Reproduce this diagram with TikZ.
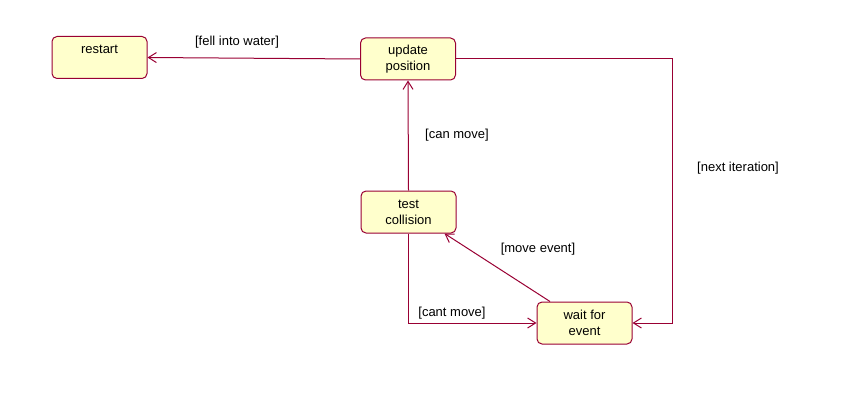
\documentclass[tikz,border=0pt]{standalone}
\usepackage{fontspec}
\setmainfont{Liberation Sans}
\usetikzlibrary{arrows.meta,calc}

\definecolor{linecol}{HTML}{990033}
\definecolor{boxcol}{HTML}{FFFFCC}

\begin{document}
\begin{tikzpicture}[x=1pt, y=-1pt, >={Straight Barb[length=8pt,width=10pt]},
  state/.style={draw=linecol, fill=boxcol, line width=1pt, rounded corners=5pt,
    minimum width=95pt, minimum height=42pt, align=center, inner sep=2pt,
    font=\fontsize{13}{16}\selectfont},
  guard/.style={font=\fontsize{13}{16}\selectfont, inner sep=1pt},
  trans/.style={->, draw=linecol, line width=1pt}]

  % picture frame
  \useasboundingbox (0,0) rectangle (859,409);

  % states
  \node[state] (restart) at (99.5,57.5) {restart\\\mbox{}};
  \node[state] (update)  at (408,59)    {update\\position};
  \node[state] (test)    at (408.5,212) {test\\collision};
  \node[state] (wait)    at (584.5,323) {wait for\\event};

  % turning point
  \coordinate (corner) at (672,59);

  % transitions
  \draw[trans] (update.west) -- (restart.east);
  \draw[trans] (update.east) -- (corner) |- (wait.east);
  \draw[trans] (test.north) -- (update.south);
  \draw[trans] (test.south) |- (wait.west);
  \draw[trans] ($(wait.north)+(-34.5,0)$) -- ($(test.south east)+(-12,0)$);

  % guards
  \node[guard] (gfell) at (237,42)  {[fell into water]};
  \node[guard] (gcan)  at (457,135) {[can move]};
  \node[guard] (gnext) at (738,168) {[next iteration]};
  \node[guard] (gmove) at (538,249) {[move event]};
  \node[guard] (gcant) at (452,313) {[cant move]};

\end{tikzpicture}
\end{document}
